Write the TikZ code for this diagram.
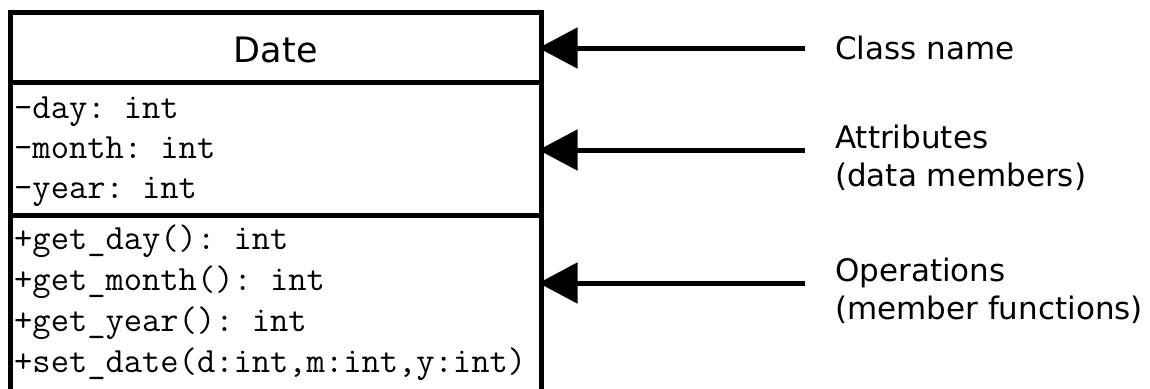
\documentclass[tikz,border=0pt]{standalone}
\usepackage{fontspec}
\setmainfont{DejaVu Sans}
\setmonofont{Latin Modern Mono}
\usetikzlibrary{arrows.meta,positioning}

\begin{document}
\begin{tikzpicture}[x=1pt,y=-1pt,
    part/.style={draw,line width=5pt,minimum width=530.5pt,inner sep=0pt,
      outer sep=0pt,anchor=north west},
    member/.style={anchor=base west,inner sep=0pt,
      font=\ttfamily\fontsize{35.5}{38}\selectfont},
    note/.style={anchor=north west,align=left,inner sep=0pt,
      font=\fontsize{31}{38}\selectfont},
    pointer/.style={line width=5pt,shorten >=-2.5pt,
      -{Triangle[length=39pt,width=40pt]}}]
  \clip (0,0) rectangle (1150,388);

  % the class box
  \node[part,minimum height=70pt,text height=31pt,
    font=\fontsize{35}{40}\selectfont] (name) at (10.5,12.5) {Date};
  \node[part,minimum height=132.5pt,below=0pt of name] (attrs) {};
  \node[part,minimum height=205pt,below=0pt of attrs] (ops) {};

  % attributes
  \node[member] (day)   at (14,118) {-day: int};
  \node[member] (month) at (14,158) {-month: int};
  \node[member] (year)  at (14,198) {-year: int};

  % operations
  \node[member] (getday)   at (14,249) {+get\_day(): int};
  \node[member] (getmonth) at (14,290) {+get\_month(): int};
  \node[member] (getyear)  at (14,331) {+get\_year(): int};
  \node[member] (setdate)  at (14,372) {+set\_date(d:int,m:int,y:int)};

  % notes
  \node[note] (lblname)  at (835,36)  {Class name};
  \node[note] (lblattrs) at (835,125) {Attributes\\(data members)};
  \node[note] (lblops)   at (835,258) {Operations\\(member functions)};

  \coordinate (tailname)  at (805,48);
  \coordinate (tailattrs) at (805,150);
  \coordinate (tailops)   at (805,283);

  \draw[pointer] (tailname)  -- (tailname -| name.east);
  \draw[pointer] (tailattrs) -- (tailattrs -| attrs.east);
  \draw[pointer] (tailops)   -- (tailops -| ops.east);
\end{tikzpicture}
\end{document}
